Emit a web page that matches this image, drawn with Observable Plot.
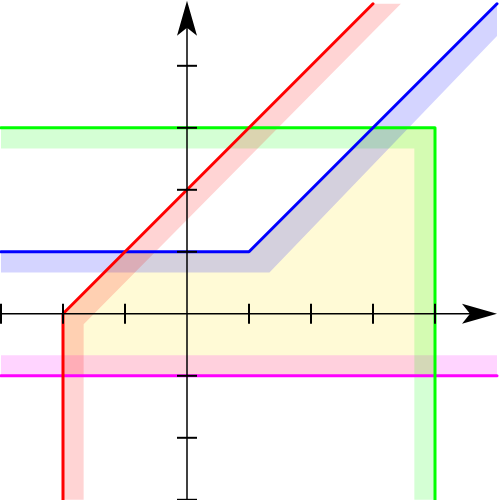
<!DOCTYPE html>
<html><head><meta charset="utf-8">
<script src="https://cdn.jsdelivr.net/npm/d3@7"></script>
<script src="https://cdn.jsdelivr.net/npm/@observablehq/plot@0.6"></script>
<style>body{margin:0;background:#fff}#chart svg{display:block}</style>
</head><body><div id="chart"></div>
<script>
// polylines (data coordinates)
const redLine = [[-2,-3],[-2,0],[3,5]];
const redEdge = [[-1.667,-3],[-1.667,-0.167],[3.45,5]];
const blueLine = [[-3,1],[1,1],[5,5]];
const blueEdge = [[-3,0.667],[1.33,0.667],[5,4.48]];
const greenLine = [[-3,3],[4,3],[4,-3]];
const greenEdge = [[-3,2.667],[3.667,2.667],[3.667,-3]];
const magentaLine = [[-3,-1],[5,-1]];
const magentaEdge = [[-3,-0.667],[5,-0.667]];
const region = [[-2,-1],[-2,0],[-1,1],[1,1],[3,3],[4,3],[4,-1]];
const xTicks = [-3,-2,-1,1,2,3,4];
const yTicks = [-3,-2,-1,1,2,3,4];
const xAxisExtent = [-3.05, 4.6];
const yAxisExtent = [-3.05, 4.65];
const xArrowTip = 5.0;
const yArrowTip = 5.05;

const band = (line, edge) => [...line, ...edge.slice().reverse()];
const X = d => d[0], Y = d => d[1];

const tickSym = {draw(ctx){ctx.moveTo(0,-10); ctx.lineTo(0,10);}};
const arrowSym = {draw(ctx){ctx.moveTo(0,0); ctx.lineTo(10,35); ctx.lineTo(0,27); ctx.lineTo(-10,35); ctx.closePath();}};

const bandOpacity = 0.17;
const plot = Plot.plot({
  width: 500, height: 500,
  margin: 0,
  x: {domain: [-3, 5], range: [0.5, 496.5], axis: null},
  y: {domain: [-3, 5], range: [499.3, 3.3], axis: null},
  marks: [
    Plot.line(region, {x: X, y: Y, fill: "#fffad6", stroke: "none"}),
    Plot.line(band(magentaLine, magentaEdge), {x: X, y: Y, fill: "#ff00ff", fillOpacity: bandOpacity, stroke: "none"}),
    Plot.line(band(greenLine, greenEdge), {x: X, y: Y, fill: "#00ff00", fillOpacity: bandOpacity, stroke: "none"}),
    Plot.line(band(blueLine, blueEdge), {x: X, y: Y, fill: "#0000ff", fillOpacity: bandOpacity, stroke: "none"}),
    Plot.line(band(redLine, redEdge), {x: X, y: Y, fill: "#ff0000", fillOpacity: bandOpacity, stroke: "none"}),
    Plot.line(magentaLine, {x: X, y: Y, stroke: "#ff00ff", strokeWidth: 3}),
    Plot.line(greenLine, {x: X, y: Y, stroke: "#00ff00", strokeWidth: 3}),
    Plot.line(blueLine, {x: X, y: Y, stroke: "#0000ff", strokeWidth: 3}),
    Plot.line(redLine, {x: X, y: Y, stroke: "#ff0000", strokeWidth: 3}),
    Plot.ruleY([0], {x1: xAxisExtent[0], x2: xAxisExtent[1], stroke: "#000", strokeWidth: 1.5}),
    Plot.ruleX([0], {y1: yAxisExtent[0], y2: yAxisExtent[1], stroke: "#000", strokeWidth: 1.5}),
    Plot.dot(xTicks, {x: d => d, y: 0, symbol: tickSym, stroke: "#000", fill: "none", strokeWidth: 2}),
    Plot.dot(yTicks, {x: 0, y: d => d, symbol: tickSym, rotate: 90, stroke: "#000", fill: "none", strokeWidth: 2}),
    Plot.dot([xArrowTip], {x: d => d, y: 0, symbol: arrowSym, rotate: 90, fill: "#000", stroke: "none"}),
    Plot.dot([yArrowTip], {x: 0, y: d => d, symbol: arrowSym, fill: "#000", stroke: "none"})
  ]
});
document.getElementById("chart").append(plot);
</script>
</body></html>
